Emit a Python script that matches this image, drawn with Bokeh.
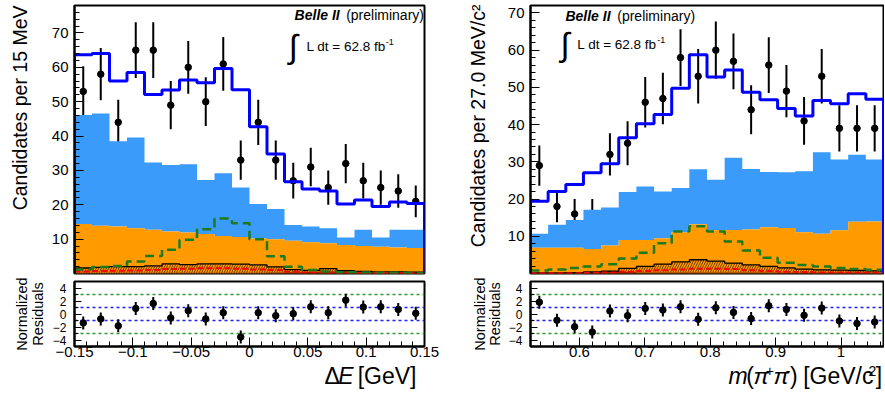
import math
import numpy as np
from bokeh.plotting import figure
from bokeh.layouts import row, column
from bokeh.models import Label, Span, FixedTicker, CustomJSTickFormatter
from bokeh.embed import file_html
from bokeh.resources import INLINE

FONT = "Liberation Sans"

# ---------------- binning ----------------
n_bins = 20
de_range = (-0.15, 0.15)          # Delta E [GeV], 15 MeV bins
mpp_range = (0.525, 1.065)        # m(pi+ pi-) [GeV/c^2], 27 MeV bins
de_ymax = 78
mpp_ymax = 72

# ---------------- Delta E panel ----------------
de_data = [53, 58, 44, 65, 65, 49, 60, 50, 61, 33, 44, 33, 27, 31, 25, 32, 27, 25, 24, 21]
de_err = [7.3, 7.6, 6.6, 8.1, 8.1, 7.0, 7.7, 7.1, 7.8, 5.7, 6.6, 5.7, 5.2, 5.6, 5.0, 5.7, 5.2, 5.0, 4.9, 4.6]
de_total = [63.7, 64.0, 56.0, 58.5, 52.1, 53.4, 56.3, 55.5, 59.7, 53.5, 42.7, 34.8, 26.7, 24.6, 24.0, 20.2, 21.4, 19.5, 20.8, 20.4]
de_continuum_top = [46.1, 46.6, 38.5, 39.6, 32.3, 31.6, 31.8, 27.2, 29.2, 25.0, 20.2, 18.8, 14.1, 13.7, 13.2, 10.5, 12.7, 10.5, 12.7, 12.7]
de_bbbar_top = [14.4, 13.9, 13.7, 13.2, 12.7, 12.2, 11.9, 11.5, 10.9, 10.6, 10.2, 10.0, 9.5, 9.1, 8.8, 8.3, 8.0, 7.8, 7.6, 7.4]
de_peaking_top = [1.6, 1.8, 2.0, 2.0, 2.2, 2.8, 2.6, 2.8, 2.8, 2.7, 2.5, 1.9, 1.1, 0.9, 1.4, 0.8, 0.6, 0.5, 0.5, 0.4]
de_dark_top = [0.2, 0.2, 0.2, 0.2, 0.2, 0.2, 0.2, 0.2, 0.2, 0.2, 0.2, 0.3, 0.4, 0.5, 0.6, 0.5, 0.4, 0.4, 0.4, 0.3]
de_red = [0.6, 0.7, 0.8, 0.9, 1.0, 1.3, 1.4, 1.5, 1.5, 1.4, 1.2, 1.0, 0.5, 0.3, 0.3, 0.2, 0.2, 0.2, 0.1, 0.1]
de_signal = [1.2, 1.9, 2.2, 3.5, 5.1, 6.9, 9.8, 12.9, 16.0, 14.6, 10.0, 5.0, 2.0, 1.0, 0.6, 0.4, 0.3, 0.2, 0.2, 0.1]
de_resid = [-1.37, -0.76, -1.82, 0.86, 1.62, -0.61, 0.51, -0.76, 0.2, -3.54, 0.2, -0.25, 0.05, 1.11, 0.2, 2.13, 1.06, 1.11, 0.71, 0.1]
de_resid_err = [1.0, 1.0, 1.0, 1.0, 1.0, 1.0, 1.0, 1.0, 1.0, 1.0, 1.0, 1.0, 1.0, 1.0, 1.0, 1.0, 1.0, 1.0, 1.0, 1.0]

# ---------------- m(pi pi) panel ----------------
mpp_data = [29, 18, 16, 16, 32, 35, 46, 47, 58, 53, 60, 57, 44, 56, 49, 41, 53, 39, 39, 39]
mpp_err = [5.4, 4.2, 4.0, 4.0, 5.7, 5.9, 6.8, 6.9, 7.6, 7.3, 7.7, 7.5, 6.6, 7.5, 7.0, 6.4, 7.3, 6.2, 6.2, 6.2]
mpp_total = [19.4, 22.0, 23.9, 27.1, 29.5, 36.5, 40.2, 42.7, 49.8, 58.8, 52.8, 54.7, 48.7, 46.7, 44.3, 42.3, 46.5, 45.6, 48.3, 46.8]
mpp_continuum_top = [10.7, 13.1, 14.4, 17.1, 17.7, 21.9, 23.4, 22.0, 23.0, 28.0, 25.2, 31.1, 28.1, 27.3, 27.2, 27.5, 32.6, 30.6, 31.9, 30.6]
mpp_bbbar_top = [6.9, 6.9, 6.9, 6.6, 7.5, 9.0, 9.0, 9.5, 11.1, 13.2, 11.6, 11.7, 11.8, 12.4, 12.2, 11.1, 10.7, 11.6, 13.9, 14.0]
mpp_peaking_top = [0.15, 0.15, 0.2, 0.4, 0.6, 1.4, 1.9, 2.5, 3.1, 3.7, 3.3, 2.8, 2.3, 1.9, 1.5, 1.2, 1.0, 0.9, 0.8, 0.7]
mpp_dark_top = [0.1, 0.1, 0.1, 0.4, 0.5, 0.5, 0.3, 0.3, 0.3, 0.3, 0.3, 0.3, 0.3, 0.3, 0.3, 0.3, 0.3, 0.3, 0.3, 0.3]
mpp_red = [0.05, 0.05, 0.1, 0.2, 0.3, 0.5, 0.7, 0.9, 1.1, 1.3, 1.3, 1.2, 0.9, 0.7, 0.5, 0.4, 0.3, 0.3, 0.2, 0.2]
mpp_signal = [0.8, 1.1, 1.5, 1.9, 2.5, 4.0, 5.6, 8.1, 11.3, 12.7, 11.3, 8.6, 6.2, 4.2, 2.9, 2.3, 1.9, 1.5, 1.2, 1.0]
mpp_resid = [1.82, -0.96, -1.97, -2.78, 0.46, -0.25, 0.86, 0.61, 1.11, -0.81, 0.96, 0.25, -0.71, 1.27, 0.71, -0.2, 0.91, -1.06, -1.47, -1.22]
mpp_resid_err = [1.0, 1.0, 1.0, 1.0, 1.0, 1.0, 1.0, 1.0, 1.0, 1.0, 1.0, 1.0, 1.0, 1.0, 1.0, 1.0, 1.0, 1.0, 1.0, 1.0]

# ---------------- ticks ----------------
main_yticks = [10, 20, 30, 40, 50, 60, 70]
main_yminor = list(range(2, 80, 2))
res_yticks = [-4, -2, 0, 2, 4]
res_yminor = [-5, -3, -1, 1, 3, 5]
de_xticks = [-0.15, -0.1, -0.05, 0, 0.05, 0.1, 0.15]
de_xminor = [round(-0.15 + 0.01 * i, 3) for i in range(31)]
mpp_xticks = [0.6, 0.7, 0.8, 0.9, 1.0]
mpp_xminor = [round(0.54 + 0.02 * i, 3) for i in range(27)]

# ---------------- colours ----------------
C_CONT = "#3a9bfb"
C_BB = "#ff9b00"
C_DARK = "#8a2a10"
C_TOTAL = "#0000ff"
C_SIG = "#1d7a1d"
C_RED = "#ff0000"

FMT = CustomJSTickFormatter(code="const v = Math.round(tick*1000)/1000; return String(v).replace('-', '\u2212');")

H_MAIN, H_RES, H_XT, H_ALL = 277, 86, 31, 394
MID = 0.36   # distance from the text's middle to its baseline, in font sizes


def edges_of(rng):
    return np.linspace(rng[0], rng[1], n_bins + 1)


def centers_of(rng):
    e = edges_of(rng)
    return (e[:-1] + e[1:]) / 2


def ext(v):
    return list(v) + [v[-1]]


def style_axis(ax, size="15px", standoff=6):
    ax.major_label_text_font = FONT
    ax.major_label_text_font_size = size
    ax.major_label_text_color = "black"
    ax.major_label_standoff = standoff
    ax.axis_line_color = "black"
    ax.axis_line_width = 2
    ax.major_tick_in = 9
    ax.major_tick_out = 0
    ax.minor_tick_in = 5
    ax.minor_tick_out = 0
    ax.major_tick_line_color = "black"
    ax.minor_tick_line_color = "black"
    ax.formatter = FMT


def make_map(rx0, rx1, ry0, ry1, xlo, xhi, ylo, yhi):
    def X(px):
        return xlo + (px - rx0) / (rx1 - rx0) * (xhi - xlo)

    def Y(py):
        return yhi - (py - ry0) / (ry1 - ry0) * (yhi - ylo)
    return X, Y


def lab(fig, x, y, text, size, style="normal", align="left", baseline="middle", angle=0.0):
    fig.add_layout(Label(x=x, y=y, text=text, text_font=FONT, text_font_size=size,
                         text_font_style=style, text_align=align, text_baseline=baseline,
                         angle=angle, text_color="black"))


def vlab(fig, base_x, y, text, size_px, align):
    """Vertical (bottom-to-top) title whose baseline lies at base_x."""
    lab(fig, base_x - MID * size_px, y, text, f"{size_px}px", "normal", align, "middle",
        math.pi / 2)


AW = {' ': 278, '[': 278, ']': 278, 'G': 778, 'e': 556, 'V': 667, '/': 278, 'c': 500,
      '2': 556, 'm': 833, '(': 333, ')': 333, 'E': 667, 'Δ': 668, 'π': 580, '+': 584, '-': 333}


def text_w(s, size):
    return sum(AW.get(ch, 556) for ch in s) * size / 1000.0


def blank(width, height):
    """A canvas whose frame fills it, in pixel units, for titles outside the plot frames."""
    f = figure(width=width, height=height, x_range=(0, width), y_range=(0, height),
               output_backend="svg", toolbar_location=None, x_axis_location=None,
               y_axis_location=None, min_border=0)
    f.min_border_left = f.min_border_right = f.min_border_top = f.min_border_bottom = 0
    f.grid.grid_line_color = None
    f.outline_line_color = None
    return f


def rich(fig, pieces, x_right, base_y):
    total = sum(text_w(t, sz) for t, sz, st, r in pieces)
    cur = x_right - total
    for t, sz, st, r in pieces:
        s = t.lstrip(" ")
        lead = text_w(" " * (len(t) - len(s)), sz)
        lab(fig, cur + lead, base_y + r + MID * sz, s, f"{sz}px", st, "left", "middle")
        cur += text_w(t, sz)


def panel(rng, ymax, width, bl, br, data, err, total, cont, bb, peak, dark, red, sig,
          resid, rerr, xticks, xminor):
    edges = edges_of(rng)
    cen = centers_of(rng)
    p = figure(width=width, height=H_MAIN, x_range=rng, y_range=(0, ymax), output_backend="svg",
               toolbar_location=None, x_axis_location=None, min_border_left=bl,
               min_border_right=br, min_border_top=5, min_border_bottom=4)
    p.grid.grid_line_color = None
    p.outline_line_color = "black"
    p.outline_line_width = 2
    p.border_fill_color = "white"
    style_axis(p.yaxis[0], "15px", 6)
    p.yaxis[0].ticker = FixedTicker(ticks=main_yticks, minor_ticks=main_yminor)

    # data first (the stack is drawn over it, as in the original)
    lo = [d - e for d, e in zip(data, err)]
    hi = [d + e for d, e in zip(data, err)]
    p.segment(x0=cen, y0=lo, x1=cen, y1=hi, line_color="black", line_width=2)
    p.scatter(x=cen, y=data, size=6.5, color="black")

    # stacked components
    p.varea_step(x=edges, y1=ext(bb), y2=ext(cont), step_mode="after", fill_color=C_CONT)
    p.varea_step(x=edges, y1=[0] * (n_bins + 1), y2=ext(bb), step_mode="after", fill_color=C_BB)
    p.quad(left=edges[:-1], right=edges[1:], bottom=dark, top=peak, fill_color=C_BB,
           line_color=None, hatch_pattern="/", hatch_color="#5a2e00", hatch_scale=5,
           hatch_weight=0.9)
    p.quad(left=edges[:-1], right=edges[1:], bottom=[0] * n_bins, top=dark,
           fill_color=C_DARK, line_color=None)
    p.step(x=edges, y=ext(peak), mode="after", line_color="black", line_width=1.3)
    p.step(x=edges, y=ext(red), mode="after", line_color=C_RED, line_width=2, line_dash="6 3")
    p.step(x=edges, y=ext(sig), mode="after", line_color=C_SIG, line_width=2.5, line_dash="9 5")
    tx = [edges[0]] + list(edges) + [edges[-1]]
    ty = [0] + list(total) + [total[-1], 0]
    p.step(x=tx, y=ty, mode="after", line_color=C_TOTAL, line_width=3)

    # residual pad
    r = figure(width=width, height=H_RES, x_range=rng, y_range=(-5, 5), output_backend="svg",
               toolbar_location=None, min_border_left=bl, min_border_right=br,
               min_border_top=4, min_border_bottom=17)
    r.grid.grid_line_color = None
    r.outline_line_color = "black"
    r.outline_line_width = 2
    r.border_fill_color = "white"
    style_axis(r.yaxis[0], "12px", 8)
    r.yaxis[0].ticker = FixedTicker(ticks=res_yticks, minor_ticks=res_yminor)
    r.yaxis[0].major_tick_in = 7
    r.yaxis[0].minor_tick_in = 4
    style_axis(r.xaxis[0], "15px", 0)
    r.xaxis[0].ticker = FixedTicker(ticks=xticks, minor_ticks=xminor)
    for loc, col in ((3, "#2e9a2e"), (-3, "#2e9a2e"), (1, "#2020ff"), (-1, "#2020ff")):
        r.add_layout(Span(location=loc, dimension="width", line_color=col, line_width=1.5,
                          line_dash="3 3", level="underlay"))
    rlo = [v - e for v, e in zip(resid, rerr)]
    rhi = [v + e for v, e in zip(resid, rerr)]
    r.segment(x0=cen, y0=rlo, x1=cen, y1=rhi, line_color="black", line_width=2)
    r.scatter(x=cen, y=resid, size=6.5, color="black")
    return p, r


# ---------------- left: Delta E ----------------
pL, rL = panel(de_range, de_ymax, 392, 23, 16, de_data, de_err, de_total, de_continuum_top,
               de_bbbar_top, de_peaking_top, de_dark_top, de_red, de_signal, de_resid,
               de_resid_err, de_xticks, de_xminor)
X, Y = make_map(71, 424, 5, 273, de_range[0], de_range[1], 0, de_ymax)
lab(pL, X(293), Y(14), "Belle II", "14px", "bold italic")
lab(pL, X(345), Y(14), "(preliminary)", "14px")
lab(pL, X(287), Y(46), "∫", "33px")
lab(pL, X(305), Y(46), "L dt = 62.8 fb", "13.5px")
lab(pL, X(385), Y(41), "-1", "9px")

ytL = blank(48, H_ALL)
vlab(ytL, 27, H_ALL - 5, "Candidates per 15 MeV", 19.5, "right")
vlab(ytL, 27, H_ALL - 313.5, "Normalized", 14.5, "center")
vlab(ytL, 43, H_ALL - 313.5, "Residuals", 14.5, "center")
xtL = blank(392, H_XT)
rich(xtL, [("Δ", 23, "normal", 0), ("E", 23, "italic", 0), (" [GeV]", 23, "normal", 0)],
     424 - 48, H_ALL - 384)

# ---------------- right: m(pi pi) ----------------
pR, rR = panel(mpp_range, mpp_ymax, 380, 25, 1, mpp_data, mpp_err, mpp_total, mpp_continuum_top,
               mpp_bbbar_top, mpp_peaking_top, mpp_dark_top, mpp_red, mpp_signal, mpp_resid,
               mpp_resid_err, mpp_xticks, mpp_xminor)
X2, Y2 = make_map(529, 883, 5, 273, mpp_range[0], mpp_range[1], 0, mpp_ymax)
lab(pR, X2(564), Y2(15), "Belle II", "14px", "bold italic")
lab(pR, X2(616), Y2(15), "(preliminary)", "14px")
lab(pR, X2(559), Y2(44), "∫", "33px")
lab(pR, X2(576), Y2(44), "L dt = 62.8 fb", "13.5px")
lab(pR, X2(656), Y2(39), "-1", "9px")

ytR = blank(64, H_ALL)
vlab(ytR, 45, H_ALL - 4, "Candidates per 27.0 MeV/c²", 19.5, "right")
vlab(ytR, 45, H_ALL - 313.5, "Normalized", 14.5, "center")
vlab(ytR, 60, H_ALL - 313.5, "Residuals", 14.5, "center")
xtR = blank(380, H_XT)
rich(xtR, [("m", 23, "italic", 0), ("(", 23, "normal", 0), ("π", 23, "italic", 0),
           ("+", 14, "normal", 8), ("π", 23, "italic", 0), ("-", 14, "normal", 8),
           (")", 23, "normal", 0), (" [GeV/c", 23, "normal", 0), ("2", 14, "normal", 8),
           ("]", 23, "normal", 0)], 882 - 504, H_ALL - 384)

layout = row(row(ytL, column(pL, rL, xtL)), row(ytR, column(pR, rR, xtR)))
with open("out.html", "w", encoding="utf-8") as f:
    f.write(file_html(layout, INLINE))
